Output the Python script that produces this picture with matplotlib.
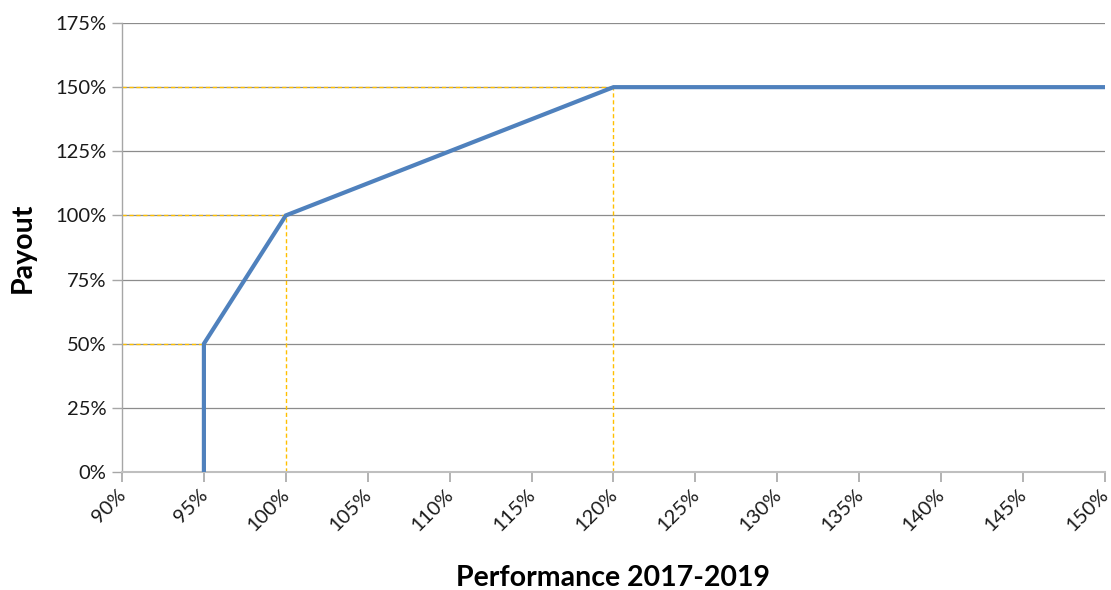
import matplotlib
matplotlib.use("Agg")
import matplotlib.pyplot as plt
from matplotlib.ticker import FuncFormatter
from matplotlib.transforms import ScaledTranslation

plt.rcParams['font.family'] = ['Lato', 'DejaVu Sans']

# Data
performance = [95, 95, 100, 120, 150]
payout = [0, 50, 100, 150, 150]
# reference guide points (performance, payout)
guide_x = [95, 100, 120]
guide_y = [50, 100, 150]

x_ticks = list(range(90, 151, 5))
y_ticks = list(range(0, 176, 25))

fig = plt.figure(figsize=(11.11, 5.90), dpi=100)
ax = fig.add_axes([0.1098, 0.2, 0.8848, 0.761])

ax.set_xlim(90, 150)
ax.set_ylim(0, 175)
ax.set_xticks(x_ticks)
ax.set_yticks(y_ticks)

grid_color = '#8c8c8c'
axis_color = '#bfbfbf'
yellow = '#ffc000'

ax.yaxis.grid(True, color=grid_color, linewidth=0.9)
ax.set_axisbelow(True)

# guide lines
for gx, gy in zip(guide_x, guide_y):
    ax.plot([90, gx], [gy, gy], color=yellow, linewidth=1.0, linestyle=(0, (3, 2)), zorder=2)
    if gx != 95:
        ax.plot([gx, gx], [0, gy], color=yellow, linewidth=1.0, linestyle=(0, (3, 2)), zorder=2)

ax.plot(performance, payout, color='#4f81bd', linewidth=3.0, solid_capstyle='butt',
        solid_joinstyle='miter', zorder=3)

for s in ['top', 'right']:
    ax.spines[s].set_visible(False)
ax.spines['bottom'].set_color(axis_color)
ax.spines['bottom'].set_linewidth(1.5)
ax.spines['left'].set_color('#a6a6a6')
ax.spines['left'].set_linewidth(1.0)

ax.tick_params(axis='x', direction='out', length=7, width=1.2, color='#a6a6a6',
               labelsize=14.5, pad=3, labelcolor='#1a1a1a')
ax.tick_params(axis='y', direction='out', length=7, width=1.0, color='#a6a6a6',
               labelsize=14.5, pad=4, labelcolor='#1a1a1a')

pct = FuncFormatter(lambda v, p: f"{int(round(v))}%")
ax.xaxis.set_major_formatter(pct)
ax.yaxis.set_major_formatter(pct)

shift = ScaledTranslation(-5 / 100, 0, fig.dpi_scale_trans)
for lab in ax.get_xticklabels():
    lab.set_rotation(45)
    lab.set_ha('right')
    lab.set_va('top')
    lab.set_rotation_mode('anchor')
    lab.set_transform(lab.get_transform() + shift)

ax.set_xlabel('Performance 2017-2019', fontsize=20.5, fontweight='bold', labelpad=22, color='black')
ax.set_ylabel('Payout', fontsize=20.5, fontweight='bold', labelpad=14, color='black')

fig.savefig('out.png', dpi=100)
